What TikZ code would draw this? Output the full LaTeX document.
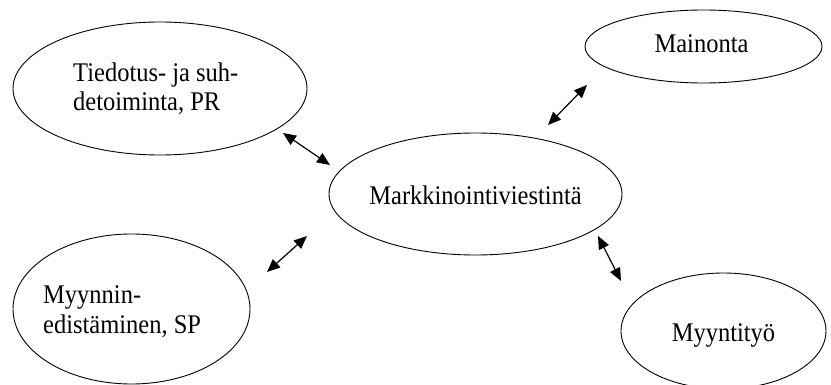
\documentclass[tikz,border=0pt]{standalone}
\usepackage{fontspec}
\setmainfont{Liberation Serif}
\usetikzlibrary{arrows.meta,shapes.geometric}
\newcommand{\tall}[1]{\scalebox{1}[1.1]{#1}}
\tikzset{
  oval/.style={ellipse, draw, line width=0.9pt, inner sep=0pt},
  lbl/.style={font=\fontsize{24.5}{29.5}\selectfont, inner sep=0pt, align=left},
  link/.style={line width=1.2pt, {Triangle[length=13pt,width=11pt]}-{Triangle[length=13pt,width=11pt]}}
}
\begin{document}
\begin{tikzpicture}[x=1pt,y=-1pt]
\clip (0,0) rectangle (831,385);
\useasboundingbox (0,0) rectangle (831,385);
% ellipses
\node[oval, minimum width=294pt, minimum height=133pt] (pr) at (160,88.5) {};
\node[oval, minimum width=237pt, minimum height=150pt] (sp) at (131.5,309) {};
\node[oval, minimum width=237pt, minimum height=73pt] (mai) at (703.5,46.5) {};
\node[oval, minimum width=293pt, minimum height=122pt] (mv) at (475.5,194) {};
\node[oval, minimum width=205pt, minimum height=116pt] (myt) at (723.5,331) {};
% texts
\node[lbl, anchor=base west] (prt) at (73,111) {\tall{Tiedotus- ja suh-}\\\tall{detoiminta, PR}};
\node[lbl, anchor=base west] (spt) at (43,333) {\tall{Myynnin-}\\\tall{edistäminen, SP}};
\node[lbl, anchor=base] (mait) at (701.5,53) {\tall{Mainonta}};
\node[lbl, anchor=base] (mvt) at (475.5,205) {\tall{Markkinointiviestintä}};
\node[lbl, anchor=base] (mytt) at (723.5,341.7) {\tall{Myyntityö}};
% arrow end points
\coordinate (a1) at (283,133); \coordinate (b1) at (330,165);
\coordinate (a2) at (267,272); \coordinate (b2) at (307,236);
\coordinate (a3) at (548,125); \coordinate (b3) at (587,85);
\coordinate (a4) at (598,236); \coordinate (b4) at (621,281);
\draw[link] (a1) -- (b1);
\draw[link] (a2) -- (b2);
\draw[link] (a3) -- (b3);
\draw[link] (a4) -- (b4);
\end{tikzpicture}
\end{document}
